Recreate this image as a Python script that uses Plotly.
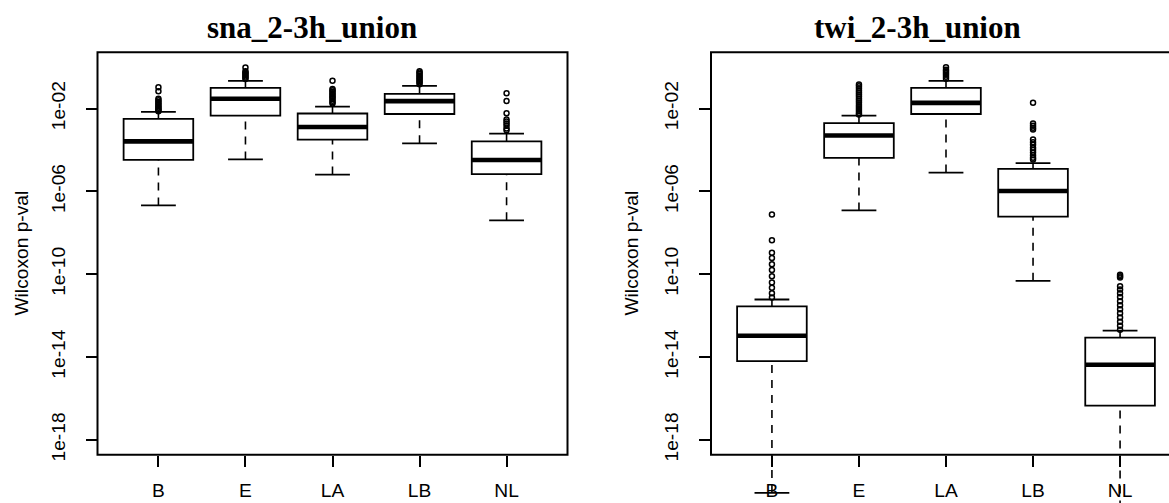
import plotly.graph_objects as go

# ---------------- data (p-values) ----------------
categories = ["B", "E", "LA", "LB", "NL"]

sna_lowerfence = [2.1e-7, 3.5e-5, 6.5e-6, 2.1e-4, 4.0e-8]
sna_q1         = [3.3e-5, 4.6e-3, 3.2e-4, 5.5e-3, 6.8e-6]
sna_median     = [2.6e-4, 3.0e-2, 1.3e-3, 2.3e-2, 3.3e-5]
sna_q3         = [3.2e-3, 1.0e-1, 5.8e-3, 5.2e-2, 2.6e-4]
sna_upperfence = [6.9e-3, 2.2e-1, 1.26e-2, 1.26e-1, 6.2e-4]
sna_outliers = [
    [0.107, 0.069, 0.030, 0.025, 0.021, 0.018, 0.015, 0.013, 0.011, 0.0095, 0.0085, 0.0075],
    [0.98, 0.63, 0.55, 0.48, 0.42, 0.36, 0.31, 0.27],
    [0.22, 0.089, 0.076, 0.065, 0.055, 0.047, 0.040, 0.034, 0.029, 0.024, 0.020, 0.0175],
    [0.63, 0.55, 0.47, 0.40, 0.34, 0.29, 0.25, 0.21, 0.18, 0.15],
    [0.055, 0.023, 0.0059, 0.0030, 0.0024, 0.0019, 0.0015, 0.0011, 0.00089],
]

twi_lowerfence = [2.7e-21, 1.2e-7, 8.1e-6, 4.8e-11, 3.2e-24]
twi_q1         = [6.3e-15, 4.2e-5, 5.5e-3, 6.0e-8, 4.5e-17]
twi_median     = [1.07e-13, 5.0e-4, 1.9e-2, 1.05e-6, 4.2e-15]
twi_q3         = [2.8e-12, 2.0e-3, 1.0e-1, 1.23e-5, 8.7e-14]
twi_upperfence = [6.0e-12, 4.6e-3, 2.2e-1, 2.3e-5, 1.9e-13]
twi_outliers = [
    [7.6e-8, 4.4e-9, 1.1e-9, 6e-10, 3e-10, 1.6e-10, 8e-11, 4e-11, 2.2e-11, 1.2e-11, 7.5e-12],
    [0.145, 0.12, 0.095, 0.075, 0.06, 0.048, 0.038, 0.03, 0.024, 0.019, 0.015, 0.012,
     0.0095, 0.0076, 0.0061, 0.0052],
    [1.0, 0.76, 0.63, 0.52, 0.43, 0.35, 0.28],
    [0.019, 0.0019, 0.0015, 0.0012, 0.00098, 3.2e-4, 2.4e-4, 1.8e-4, 1.3e-4, 1.0e-4,
     7.5e-5, 5.6e-5, 4.2e-5, 3.5e-5],
    [9.5e-11, 8e-11, 7e-11, 2.6e-11, 1.8e-11, 1.2e-11, 8e-12, 5e-12, 3.2e-12, 2e-12,
     1.3e-12, 8e-13, 5e-13, 3.2e-13, 2.1e-13],
]

panel_titles = ["sna_2-3h_union", "twi_2-3h_union"]
y_title = "Wilcoxon p-val"
y_tickvals = [1e-2, 1e-6, 1e-10, 1e-14, 1e-18]
y_ticktext = ["1e-02", "1e-06", "1e-10", "1e-14", "1e-18"]

# ---------------- layout constants (pixels) ----------------
W, H = 1169, 503
FRAME_TOP, FRAME_BOT = 52.3, 454.7
PANEL_W = 470.0
LEFT0, LEFT1 = 97.5, 711.0          # frame left edges of the two panels
YLOG = (-18.72, 0.72)               # R ylim (1e-18..1) with 4% extension
XLIM = (0.3, 5.7)
px_per_dec = (FRAME_BOT - FRAME_TOP) / (YLOG[1] - YLOG[0])
ybottom_log = YLOG[1] - (H - FRAME_TOP) / px_per_dec
px_per_unit = PANEL_W / (XLIM[1] - XLIM[0])

SANS = "Liberation Sans, Arial, Helvetica, sans-serif"
SERIF = "Liberation Serif, Times New Roman, serif"
FS = 19.2
BOXW = 0.8
CAPW = 0.4

fig = go.Figure()
positions = list(range(1, len(categories) + 1))

panels = [
    (sna_lowerfence, sna_q1, sna_median, sna_q3, sna_upperfence, sna_outliers),
    (twi_lowerfence, twi_q1, twi_median, twi_q3, twi_upperfence, twi_outliers),
]

for k, (lf, q1, med, q3, uf, outs) in enumerate(panels):
    xa = "x" if k == 0 else "x2"
    ya = "y" if k == 0 else "y2"
    # whiskers (dashed), drawn from whisker end to the box
    wx, wy = [], []
    for i, p in enumerate(positions):
        wx += [p, p, None, p, p, None]
        wy += [lf[i], q1[i], None, uf[i], q3[i], None]
    fig.add_trace(go.Scatter(x=wx, y=wy, mode="lines", xaxis=xa, yaxis=ya,
                             line=dict(color="black", width=1.6, dash="8px,7px"),
                             hoverinfo="skip"))
    # staples
    cx, cy = [], []
    for i, p in enumerate(positions):
        cx += [p - CAPW / 2, p + CAPW / 2, None, p - CAPW / 2, p + CAPW / 2, None]
        cy += [lf[i], lf[i], None, uf[i], uf[i], None]
    fig.add_trace(go.Scatter(x=cx, y=cy, mode="lines", xaxis=xa, yaxis=ya,
                             line=dict(color="black", width=1.8), hoverinfo="skip"))
    # boxes
    fig.add_trace(go.Box(x=positions, q1=q1, median=med, q3=q3,
                         lowerfence=q1, upperfence=q3, width=BOXW, whiskerwidth=0,
                         boxpoints=False, fillcolor="white",
                         line=dict(color="black", width=1.8),
                         xaxis=xa, yaxis=ya, hoverinfo="skip"))
    # medians (thick)
    mx, my = [], []
    for i, p in enumerate(positions):
        mx += [p - BOXW / 2, p + BOXW / 2, None]
        my += [med[i], med[i], None]
    fig.add_trace(go.Scatter(x=mx, y=my, mode="lines", xaxis=xa, yaxis=ya,
                             line=dict(color="black", width=4.6), hoverinfo="skip"))
    # outliers
    ox, oy = [], []
    for i, p in enumerate(positions):
        ox += [p] * len(outs[i])
        oy += outs[i]
    fig.add_trace(go.Scatter(x=ox, y=oy, mode="markers", xaxis=xa, yaxis=ya,
                             marker=dict(symbol="circle-open", size=5, color="black",
                                         line=dict(width=1.5)),
                             hoverinfo="skip"))

ydom = [0, (H - FRAME_TOP) / H]
xpos = (H - FRAME_BOT) / H
frame_bot_in_domain = (H - FRAME_BOT) / (H - FRAME_TOP)

def xaxis_cfg(left_px, xmax):
    return dict(domain=[left_px / W, min(1.0, (left_px + PANEL_W) / W)],
                range=[XLIM[0], xmax], anchor="free", position=xpos,
                tickvals=positions, ticktext=categories, showgrid=False,
                zeroline=False, showline=False, ticks="outside", ticklen=11,
                tickwidth=1.8, tickcolor="black", automargin=False,
                ticklabelstandoff=7,
                tickfont=dict(family=SANS, size=FS, color="black"))

def yaxis_cfg(anchor):
    return dict(type="log", domain=ydom, range=[ybottom_log, YLOG[1]], anchor=anchor,
                tickvals=y_tickvals, ticktext=y_ticktext, tickangle=-90,
                showgrid=False, zeroline=False, showline=False, ticks="outside",
                ticklen=11, tickwidth=1.8, tickcolor="black", automargin=False,
                ticklabelstandoff=13,
                tickfont=dict(family=SANS, size=FS, color="black"))

x2max = XLIM[0] + (W - LEFT1) / px_per_unit

fig.update_layout(
    width=W, height=H, margin=dict(l=0, r=0, t=0, b=0),
    paper_bgcolor="white", plot_bgcolor="white", showlegend=False,
    xaxis=xaxis_cfg(LEFT0, XLIM[1]),
    xaxis2=xaxis_cfg(LEFT1, x2max),
    yaxis=yaxis_cfg("x"),
    yaxis2=yaxis_cfg("x2"),
    shapes=[
        dict(type="rect", xref="x domain", yref="y domain", x0=0, x1=1,
             y0=frame_bot_in_domain, y1=1, line=dict(color="black", width=2)),
        dict(type="rect", xref="x2 domain", yref="y2 domain", x0=0,
             x1=PANEL_W / (W - LEFT1), y0=frame_bot_in_domain, y1=1,
             line=dict(color="black", width=2)),
    ],
    annotations=[
        dict(text=f"<b>{panel_titles[0]}</b>", xref="paper", yref="paper",
             x=312 / W, y=1 - 27 / H, xanchor="center", yanchor="middle",
             showarrow=False, font=dict(family=SERIF, size=31, color="black")),
        dict(text=f"<b>{panel_titles[1]}</b>", xref="paper", yref="paper",
             x=917 / W, y=1 - 27 / H, xanchor="center", yanchor="middle",
             showarrow=False, font=dict(family=SERIF, size=31, color="black")),
        dict(text=y_title, xref="paper", yref="paper", x=21 / W, y=1 - 253.5 / H,
             xanchor="center", yanchor="middle", textangle=-90, showarrow=False,
             font=dict(family=SANS, size=FS, color="black")),
        dict(text=y_title, xref="paper", yref="paper", x=631 / W, y=1 - 253.5 / H,
             xanchor="center", yanchor="middle", textangle=-90, showarrow=False,
             font=dict(family=SANS, size=FS, color="black")),
    ],
)

fig.write_html("out.html")
